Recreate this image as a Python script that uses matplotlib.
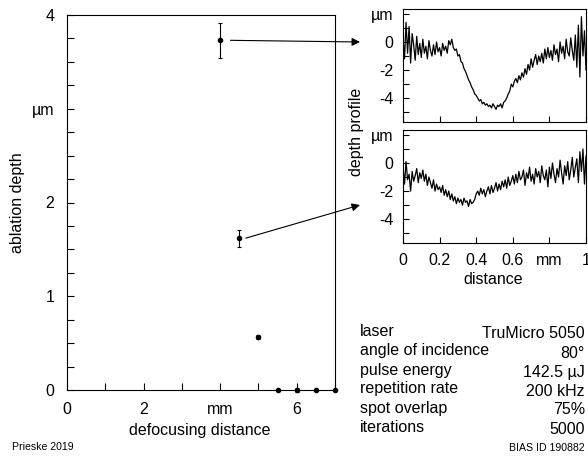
import numpy as np
import matplotlib
matplotlib.use("Agg")
import matplotlib.pyplot as plt

plt.rcParams['font.family'] = ['Liberation Sans', 'DejaVu Sans']

# main data
defocus = [4, 4.5, 5, 5.5, 6, 6.5, 7]
depth = [3.73, 1.62, 0.565, 0, 0, 0, 0]
depth_err = [0.19, 0.09, 0.025, 0, 0.02, 0, 0]

main_xticks = [0, 2, 4, 6]
main_xticklabels = ['0', '2', 'mm', '6']
main_yticks = [0, 1, 2, 3, 4]
main_yticklabels = ['0', '1', '2', 'µm', '4']

# depth profiles (µm) along 0..1 mm
profile_top = [0.3, -1.2, 1.4, -0.8, 1.1, -1.5, 0.6,
               -0.2, -1.3, 0.4, -0.9, -0.1, -1.1, 0.2, -0.8, -0.3, -1.2, 0.1, -0.6,
               -1.0, -0.2, -0.9, 0.0, -0.7, -0.4, -1.0, -0.1, -0.6, -0.3, -0.8, 0.1,
               -0.2, 0.2, -0.4,
               -0.6, -0.5, -1.0, -0.9, -1.4, -1.5, -1.9, -2.1, -2.4, -2.7, -2.9, -3.2,
               -3.4, -3.7, -3.8, -4.0, -4.2, -4.1, -4.4, -4.3, -4.5,
               -4.4, -4.6, -4.5, -4.7, -4.4, -4.6, -4.8, -4.5, -4.6, -4.4, -4.7, -4.3,
               -4.2, -4.0, -3.7, -3.5, -3.0, -3.2, -2.8, -2.6, -2.9, -2.4, -2.7, -2.2,
               -2.5, -1.9, -2.3, -1.6, -2.0, -1.2, -1.8, -1.3, -0.9, -1.6, -1.0, -1.4,
               -0.8, -1.5, -0.5, -1.2, -0.4, -1.1, -0.6, -1.3, -0.2, -0.9, -0.5, -1.4,
               0.0, -0.8, -0.3, -1.2, 0.2, -0.7, -1.0, 0.3, -0.6, -1.3, 0.5,
               -1.8, 1.2, -2.5, 1.8, -1.0, 0.8, -2.0]
profile_bottom = [-0.3, -1.5, 0.1, -1.2, -0.8, -2.0, -0.6, -1.3, -0.9, -0.4, -1.4, -0.7, -1.1,
                  -0.5, -1.3, -0.8, -1.6, -1.0, -1.4, -1.8, -1.2, -2.0, -1.5, -1.9, -1.7,
                  -2.1, -1.6, -2.3, -1.9, -2.4, -2.0, -2.6, -2.2, -2.7, -2.4, -2.9, -2.5,
                  -2.8, -2.6, -3.0, -2.5, -2.8, -2.7, -3.1, -2.6, -2.9, -2.8,
                  -2.6, -2.2, -2.0, -2.3, -1.8, -2.2, -1.9, -2.4,
                  -2.0, -1.7, -2.2, -1.6, -2.1, -1.8, -1.4, -2.0, -1.5, -1.9, -1.3, -1.7,
                  -1.2, -1.8, -1.0, -1.6, -1.3, -0.9,
                  -1.5, -0.8, -1.4, -0.6, -1.2, -1.0, -0.5, -1.6, -0.7, -1.1, -0.3, -1.3,
                  -0.8, -1.5, -0.4, -1.0, -0.6, -1.4, -0.2, -0.9, -1.2, -0.5, -1.7, -0.3,
                  -1.1, 0.0, -0.8, -1.4, -0.4, -1.0, 0.2, -0.7, -1.5, -0.2, -0.9, 0.1,
                  -1.2, -0.5, 0.4, -1.0, -0.3, 0.3,
                  -1.4, 0.8, -0.6, 1.0, -1.5, 0.5]

inset_xticks = [0, 0.2, 0.4, 0.6, 0.8, 1.0]
inset_xticklabels = ['0', '0.2', '0.4', '0.6', 'mm', '1']
inset_yticks = [-4, -2, 0, 2]
inset_yticklabels = ['-4', '-2', '0', 'µm']

params = [("laser", "TruMicro 5050"),
          ("angle of incidence", "80°"),
          ("pulse energy", "142.5 µJ"),
          ("repetition rate", "200 kHz"),
          ("spot overlap", "75%"),
          ("iterations", "5000")]

W, H = 588, 459
fig = plt.figure(figsize=(W / 100, H / 100), dpi=100)

def fr(l, t, r, b):
    return [l / W, 1 - b / H, (r - l) / W, (b - t) / H]

FS = 11.5

ax = fig.add_axes(fr(67, 15, 335, 390))
ax.errorbar(defocus, depth, yerr=depth_err, fmt='o', color='k', ms=3,
            capsize=1.5, elinewidth=0.8, capthick=0.8, clip_on=False, zorder=5)
ax.set_xlim(0, 7)
ax.set_ylim(0, 4)
ax.set_xticks(np.arange(0, 7.01, 1), minor=True)
ax.set_xticks(main_xticks)
ax.set_xticklabels(main_xticklabels)
ax.set_yticks(np.arange(0, 4.01, 0.25), minor=True)
ax.set_yticks(main_yticks)
ax.set_yticklabels(main_yticklabels)
ax.tick_params(which='both', direction='in', length=5, width=0.8, labelsize=FS)
ax.tick_params(axis='x', pad=9)
ax.tick_params(axis='y', pad=9)
for s in ax.spines.values():
    s.set_linewidth(0.8)
fig.text(200 / W, 1 - 431 / H, 'defocusing distance', ha='center', va='center', fontsize=FS)
fig.text(18 / W, 1 - 203 / H, 'ablation depth', rotation=90, ha='center', va='center', fontsize=FS)

axes_in = []
for (t, b), prof in zip([(9, 122), (130, 243)], [profile_top, profile_bottom]):
    a = fig.add_axes(fr(403, t, 586, b))
    xs = np.linspace(0, 1, len(prof))
    a.plot(xs, prof, color='k', lw=0.9)
    a.set_xlim(0, 1)
    a.set_ylim(-5.7, 2.35)
    a.set_yticks(inset_yticks)
    a.set_yticklabels(inset_yticklabels)
    a.set_yticks([-5, -3, -1, 1], minor=True)
    a.set_xticks(inset_xticks)
    a.set_xticklabels(inset_xticklabels)
    a.tick_params(which='both', direction='in', length=4, width=0.8, labelsize=FS, pad=7)
    for s in a.spines.values():
        s.set_linewidth(0.8)
    axes_in.append(a)
axes_in[0].tick_params(axis='x', labelbottom=False)
fig.text(493 / W, 1 - 280 / H, 'distance', ha='center', va='center', fontsize=FS)
fig.text(356 / W, 1 - 132 / H, 'depth profile', rotation=90, ha='center', va='center', fontsize=FS)

# arrows
ax.annotate('', xy=(360 / W, 1 - 42 / H), xycoords='figure fraction',
            xytext=(defocus[0] + 0.27, depth[0]), textcoords='data',
            arrowprops=dict(arrowstyle='-|>', color='k', lw=0.8, mutation_scale=12,
                            shrinkA=0, shrinkB=0), annotation_clip=False)
ax.annotate('', xy=(360 / W, 1 - 205 / H), xycoords='figure fraction',
            xytext=(defocus[1] + 0.17, depth[1]), textcoords='data',
            arrowprops=dict(arrowstyle='-|>', color='k', lw=0.8, mutation_scale=12,
                            shrinkA=0, shrinkB=0), annotation_clip=False)

# parameter block
key_y = [331, 350, 370, 389, 408, 427]
val_y = [333, 353, 372, 391, 410, 429]
for (k, v), ky, vy in zip(params, key_y, val_y):
    fig.text(360 / W, 1 - ky / H, k, ha='left', va='center', fontsize=FS)
    fig.text(585 / W, 1 - vy / H, v, ha='right', va='center', fontsize=FS)

fig.text(585 / W, 1 - 448 / H, 'BIAS ID 190882', ha='right', va='center', fontsize=7.6)
fig.text(12 / W, 1 - 447 / H, 'Prieske 2019', ha='left', va='center', fontsize=7.6)

fig.savefig('out.png', dpi=100)
